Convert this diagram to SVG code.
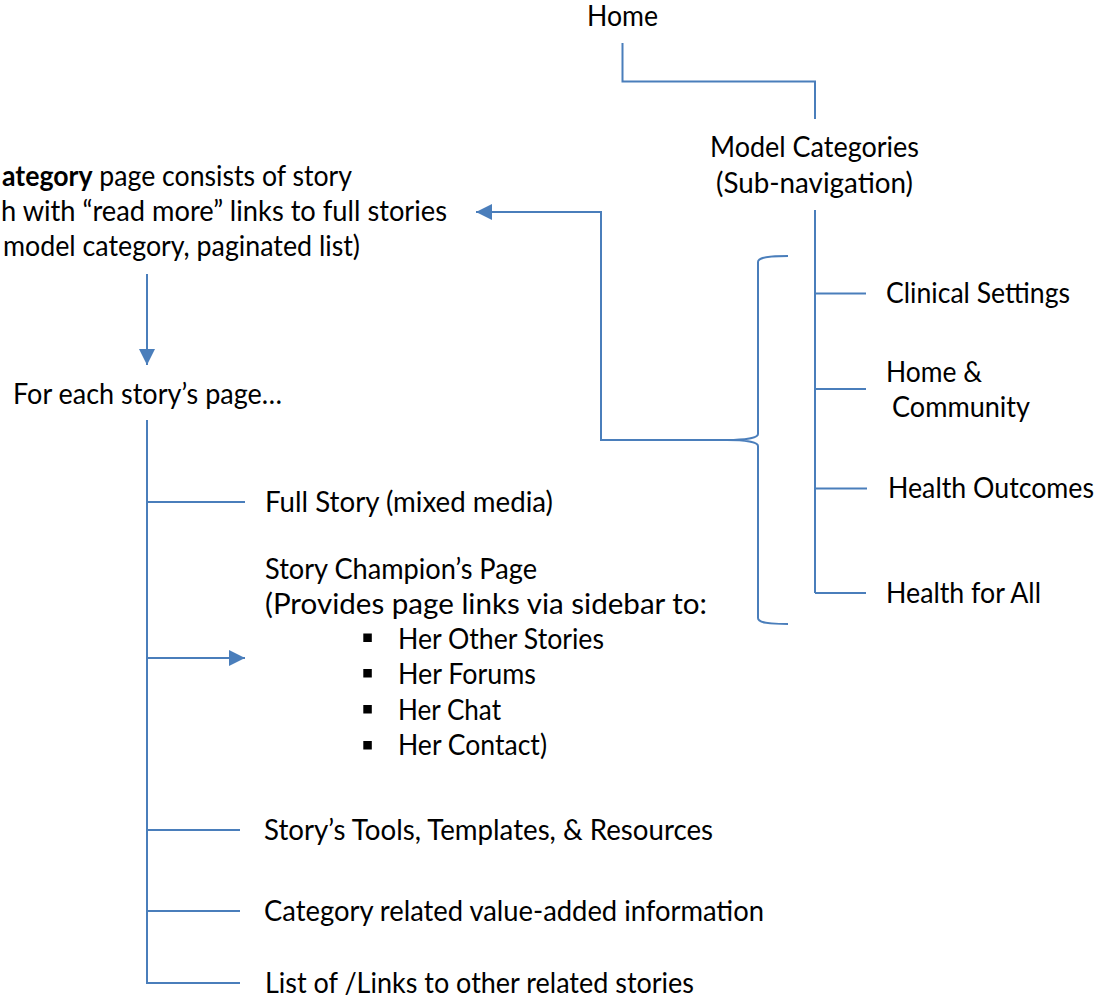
<svg xmlns="http://www.w3.org/2000/svg" width="1105" height="1001" viewBox="0 0 1105 1001">
  <defs>
    <style>
      .t { font-family: Lato, "Open Sans", "Liberation Sans", sans-serif; font-size: 28px; fill: #000; }
      .b { font-weight: bold; }
      .ln { fill: none; stroke: #4A7EBB; stroke-width: 2; }
      .bul { fill: #000; }
    </style>
    <marker id="arr" viewBox="0 0 10 10" refX="10" refY="5" markerWidth="8" markerHeight="8" markerUnits="userSpaceOnUse" orient="auto">
      <path d="M0,0 L10,5 L0,10 Z" fill="#4A7EBB"/>
    </marker>
    <marker id="arrL" viewBox="0 0 10 10" refX="10" refY="5" markerWidth="16" markerHeight="16" markerUnits="userSpaceOnUse" orient="auto">
      <path d="M0,0 L10,5 L0,10 Z" fill="#4A7EBB"/>
    </marker>
  </defs>

  <rect width="1105" height="1001" fill="#fff"/>

  <!-- connectors -->
  <g id="connectors">
    <path class="ln" d="M622.5 43 V81.5 H815 V119"/>
    <path class="ln" d="M815 210 V593"/>
    <path class="ln" d="M815 293.5 H866"/>
    <path class="ln" d="M815 389 H866"/>
    <path class="ln" d="M815 488.5 H867"/>
    <path class="ln" d="M815 593 H866"/>
    <!-- brace grouping the sub-navigation items -->
    <path class="ln" d="M788 256 C770 256 758 257 758 262 L758 434 C758 438 745 440 727 440 C745 440 758 442 758 446 L758 618 C758 623 770 624 788 624"/>
    <path class="ln" d="M727 440 H601 V212 H476" marker-end="url(#arrL)"/>
    <path class="ln" d="M147 274 V365" marker-end="url(#arrL)"/>
    <path class="ln" d="M147 420 V983 H240"/>
    <path class="ln" d="M147 502 H245"/>
    <path class="ln" d="M147 658 H245" marker-end="url(#arrL)"/>
    <path class="ln" d="M147 830 H240"/>
    <path class="ln" d="M147 911 H240"/>
  </g>

  <g id="home"><text class="t" x="587" y="26" textLength="71" lengthAdjust="spacingAndGlyphs">Home</text></g>

  <g id="model-categories">
    <text class="t" x="710" y="157" textLength="209" lengthAdjust="spacingAndGlyphs">Model Categories</text>
    <text class="t" x="716" y="193" textLength="197" lengthAdjust="spacingAndGlyphs">(Sub-navigation)</text>
  </g>

  <g id="clinical-settings"><text class="t" x="886" y="303" textLength="184" lengthAdjust="spacingAndGlyphs">Clinical Settings</text></g>
  <g id="home-community">
    <text class="t" x="886" y="382" textLength="96" lengthAdjust="spacingAndGlyphs">Home &amp;</text>
    <text class="t" x="892" y="417" textLength="138" lengthAdjust="spacingAndGlyphs">Community</text>
  </g>
  <g id="health-outcomes"><text class="t" x="888" y="498" textLength="206" lengthAdjust="spacingAndGlyphs">Health Outcomes</text></g>
  <g id="health-for-all"><text class="t" x="886" y="603" textLength="155" lengthAdjust="spacingAndGlyphs">Health for All</text></g>

  <g id="category-page">
    <text class="t" x="2" y="186" textLength="350" lengthAdjust="spacingAndGlyphs"><tspan class="b">ategory</tspan> page consists of story</text>
    <text class="t" x="1" y="221" textLength="446" lengthAdjust="spacingAndGlyphs">h with “read more” links to full stories</text>
    <text class="t" x="3" y="256" textLength="357" lengthAdjust="spacingAndGlyphs">model category, paginated list)</text>
  </g>

  <g id="story-page"><text class="t" x="13" y="404" textLength="269" lengthAdjust="spacingAndGlyphs">For each story’s page…</text></g>

  <g id="full-story"><text class="t" x="265" y="512" textLength="288" lengthAdjust="spacingAndGlyphs">Full Story (mixed media)</text></g>

  <g id="champion-page">
    <text class="t" x="265" y="579" textLength="272" lengthAdjust="spacingAndGlyphs">Story Champion’s Page</text>
    <text class="t" x="265" y="614" textLength="442" lengthAdjust="spacingAndGlyphs">(Provides page links via sidebar to:</text>
    <rect class="bul" x="363.3" y="633.5" width="8.5" height="8.5"/>
    <rect class="bul" x="363.3" y="669" width="8.5" height="8.5"/>
    <rect class="bul" x="363.3" y="705" width="8.5" height="8.5"/>
    <rect class="bul" x="363.3" y="741" width="8.5" height="8.5"/>
    <text class="t" x="398" y="649" textLength="206" lengthAdjust="spacingAndGlyphs">Her Other Stories</text>
    <text class="t" x="398" y="684" textLength="138" lengthAdjust="spacingAndGlyphs">Her Forums</text>
    <text class="t" x="398" y="720" textLength="103" lengthAdjust="spacingAndGlyphs">Her Chat</text>
    <text class="t" x="398" y="755" textLength="149" lengthAdjust="spacingAndGlyphs">Her Contact)</text>
  </g>

  <g id="tools"><text class="t" x="264" y="840" textLength="449" lengthAdjust="spacingAndGlyphs">Story’s Tools, Templates, &amp; Resources</text></g>
  <g id="value-added"><text class="t" x="264" y="921" textLength="500" lengthAdjust="spacingAndGlyphs">Category related value-added information</text></g>
  <g id="related-stories"><text class="t" x="265" y="993" textLength="429" lengthAdjust="spacingAndGlyphs">List of /Links to other related stories</text></g>
</svg>
